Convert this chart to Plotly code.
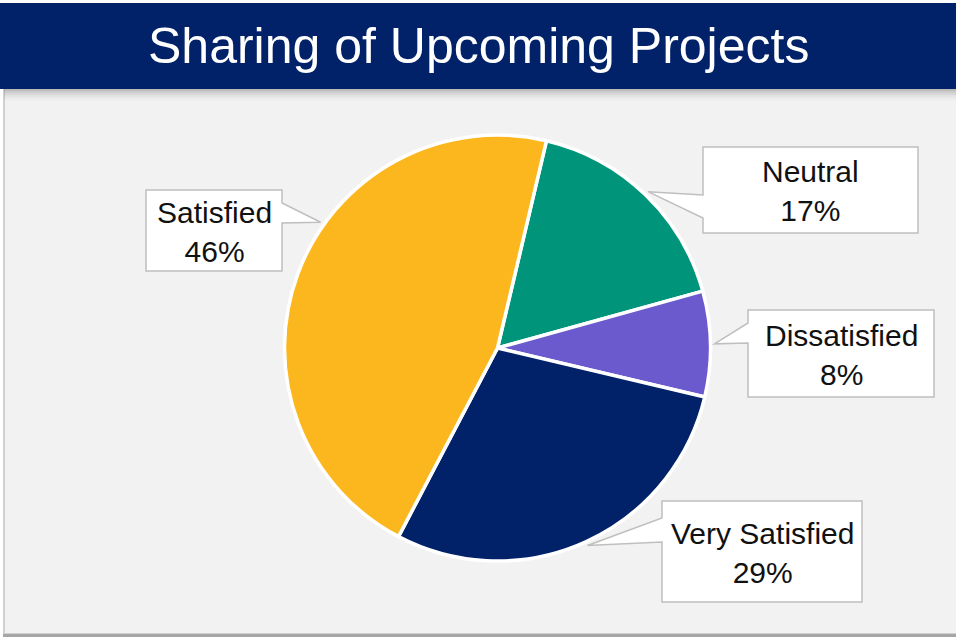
import math
import plotly.graph_objects as go

# ---- data ----
labels = ["Neutral", "Dissatisfied", "Very Satisfied", "Satisfied"]
values = [17, 8, 29, 46]
colors = ["#00957A", "#6A5ACD", "#012169", "#FDB71E"]
title_text = "Sharing of Upcoming Projects"

# ---- layout (pixels) ----
W, H = 956, 637
CX, CY, R = 497.5, 348, 213
ROT = 13.3  # start angle of first slice, degrees clockwise from 12 o'clock

# callout boxes: x0, y0, x1, y1, side of pointer, base y0, base y1, pointer position within slice
callouts = {
    "Neutral":        dict(box=(703, 147, 918, 233), side="left",  base=(195, 218), frac=0.5),
    "Dissatisfied":   dict(box=(748, 310, 934, 397), side="left",  base=(323, 343), frac=0.5),
    "Very Satisfied": dict(box=(662, 501, 862, 602), side="left",  base=(518, 542), frac=0.5),
    "Satisfied":      dict(box=(146, 190, 282, 271), side="right", base=(203, 223), frac=0.59),
}

def px(x):
    return x / W

def py(y):
    return 1 - y / H

fig = go.Figure()

fig.add_trace(go.Pie(
    labels=labels,
    values=values,
    sort=False,
    direction="clockwise",
    rotation=ROT,
    marker=dict(colors=colors, line=dict(color="white", width=3.5)),
    textinfo="none",
    hoverinfo="label+percent",
    showlegend=False,
    domain=dict(x=[px(CX - R), px(CX + R)], y=[py(CY + R), py(CY - R)]),
))

shapes = []
# panel background
shapes.append(dict(type="rect", xref="paper", yref="paper", x0=px(3), x1=1, y0=py(637), y1=py(89),
                   fillcolor="#A6A6A6", line=dict(width=0), layer="below"))
shapes.append(dict(type="rect", xref="paper", yref="paper", x0=px(3), x1=1, y0=py(634), y1=py(89),
                   fillcolor="#D0D0D0", line=dict(width=0), layer="below"))
shapes.append(dict(type="rect", xref="paper", yref="paper", x0=px(5), x1=1, y0=py(633), y1=py(89),
                   fillcolor="#F2F2F2", line=dict(width=0), layer="below"))
# shadow under title bar
for i, a in enumerate([0.35, 0.25, 0.17, 0.10, 0.05, 0.02]):
    shapes.append(dict(type="rect", xref="paper", yref="paper", x0=px(4), x1=1,
                       y0=py(89 + 2 * (i + 1)), y1=py(89 + 2 * i),
                       fillcolor=f"rgba(90,90,90,{a})", line=dict(width=0), layer="below"))
# title bar
shapes.append(dict(type="rect", xref="paper", yref="paper", x0=0, x1=1, y0=py(89), y1=py(3),
                   fillcolor="#012169", line=dict(width=0), layer="below"))

annotations = [dict(text=title_text, x=px(478.5), y=py(46), xref="paper", yref="paper",
                    showarrow=False, xanchor="center", yanchor="middle",
                    font=dict(family="Liberation Sans, Arial", size=50, color="white"))]

total = sum(values)
cum = 0
for lab, val in zip(labels, values):
    c = callouts[lab]
    a0 = ROT + 360 * cum / total
    a1 = ROT + 360 * (cum + val) / total
    cum += val
    ang = math.radians(a0 + (a1 - a0) * c["frac"])
    tx = CX + (R + 4) * math.sin(ang)
    ty = CY - (R + 4) * math.cos(ang)
    x0, y0, x1, y1 = c["box"]
    b0, b1 = c["base"]
    if c["side"] == "left":
        pts = [(x0, y0), (x1, y0), (x1, y1), (x0, y1), (x0, b1), (tx, ty), (x0, b0)]
    else:
        pts = [(x0, y0), (x1, y0), (x1, b0), (tx, ty), (x1, b1), (x1, y1), (x0, y1)]
    path = "M " + " L ".join(f"{px(x):.5f},{py(y):.5f}" for x, y in pts) + " Z"
    shapes.append(dict(type="path", xref="paper", yref="paper", path=path,
                       fillcolor="white", line=dict(color="#BFBFBF", width=1.5), layer="above"))
    pct = round(100 * val / total)
    annotations.append(dict(text=f"{lab}<br>{pct}%", x=px((x0 + x1) / 2), y=py((y0 + y1) / 2 + 1),
                            xref="paper", yref="paper", showarrow=False,
                            xanchor="center", yanchor="middle", align="center",
                            font=dict(family="Liberation Sans, Arial", size=30, color="#111111")))

fig.update_layout(
    width=W, height=H,
    margin=dict(l=0, r=0, t=0, b=0),
    paper_bgcolor="white",
    plot_bgcolor="white",
    shapes=shapes,
    annotations=annotations,
)

fig.write_html("out.html", config={"displayModeBar": False},
               post_script="document.body.style.margin='0';document.body.style.overflow='hidden';")
